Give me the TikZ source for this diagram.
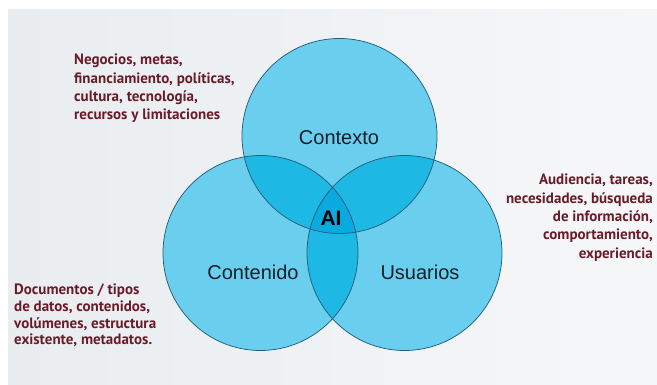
\documentclass[tikz,border=0pt]{standalone}
\usepackage{fontspec}
\setmainfont{Liberation Sans}
\newfontfamily\descfont{PT Sans}
\definecolor{bgA}{RGB}{233,237,240}
\definecolor{bgB}{RGB}{246,247,249}
\definecolor{fillone}{RGB}{106,207,239}
\definecolor{filltwo}{RGB}{30,184,228}
\definecolor{fillthree}{RGB}{10,170,222}
\definecolor{rim}{RGB}{35,95,125}
\definecolor{desc}{RGB}{105,28,40}
\definecolor{lbl}{RGB}{20,30,40}
\tikzset{
  desctext/.style={font=\descfont\bfseries\fontsize{15}{18.3}\selectfont, text=desc, inner sep=0pt},
  circlbl/.style={font=\fontsize{20}{24}\selectfont, text=lbl, inner sep=0pt},
  ailbl/.style={font=\bfseries\fontsize{21}{24}\selectfont, text=black, inner sep=0pt},
  rimline/.style={draw=rim, line width=0.75pt}
}
\begin{document}
\begin{tikzpicture}[x=1pt,y=-1pt]
\useasboundingbox (0,0) rectangle (657,385);
\fill[white] (0,0) rectangle (657,385);
\shade[left color=bgA, right color=bgB] (8,10) rectangle (657,385);
\def\rr{97.5}
\coordinate (cA) at (339.5,136);
\coordinate (cB) at (260.5,253);
\coordinate (cC) at (404.5,253);
% single regions
\fill[fillone] (cA) circle (\rr);
\fill[fillone] (cB) circle (\rr);
\fill[fillone] (cC) circle (\rr);
% double regions
\begin{scope}\clip (cA) circle (\rr); \fill[filltwo] (cB) circle (\rr); \fill[filltwo] (cC) circle (\rr);\end{scope}
\begin{scope}\clip (cB) circle (\rr); \fill[filltwo] (cC) circle (\rr);\end{scope}
% triple
\begin{scope}\clip (cA) circle (\rr); \clip (cB) circle (\rr); \fill[fillthree] (cC) circle (\rr);\end{scope}
% outlines
\draw[rimline] (cA) circle (\rr);
\draw[rimline] (cB) circle (\rr);
\draw[rimline] (cC) circle (\rr);
% labels
\node[circlbl] (lctx) at (339,138) {Contexto};
\node[circlbl] (lcon) at (253,272) {Contenido};
\node[circlbl] (lusu) at (420,272) {Usuarios};
\node[ailbl] (lai) at (331,218) {AI};
% descriptions
\node[desctext, anchor=north west, align=left] (dctx) at (74,54) {Negocios, metas,\\financiamiento, políticas,\\cultura, tecnología,\\recursos y limitaciones};
\node[desctext, anchor=north east, align=right] (dusu) at (653,174) {Audiencia, tareas,\\necesidades, búsqueda\\de información,\\comportamiento,\\experiencia};
\node[desctext, anchor=north west, align=left, font=\descfont\bfseries\fontsize{15}{16.7}\selectfont] (dcon) at (14,284) {Documentos / tipos\\de datos, contenidos,\\volúmenes, estructura\\existente, metadatos.};
\end{tikzpicture}
\end{document}
